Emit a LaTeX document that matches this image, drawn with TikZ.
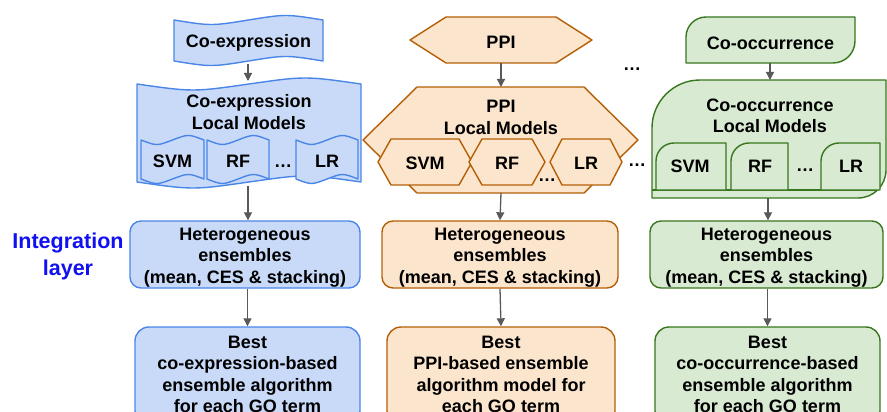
\documentclass[tikz,border=0pt]{standalone}
\usepackage{fontspec}
\setmainfont{Liberation Sans}
\usetikzlibrary{arrows.meta}

\definecolor{bfill}{HTML}{C9DAF8}
\definecolor{bline}{HTML}{4A86E8}
\definecolor{ofill}{HTML}{FCE5CD}
\definecolor{oline}{HTML}{B45F06}
\definecolor{gfill}{HTML}{D9EAD3}
\definecolor{gline}{HTML}{38761D}
\definecolor{arrgray}{HTML}{595959}
\definecolor{layerblue}{HTML}{1010F0}

% wavy "tape": x1,y1,x2,y2,amplitude
\newcommand\tapeshape[5]{({#1},{#2+#5}) .. controls ({#1+(#3-#1)/4},{#2+3*#5}) .. ({(#1+#3)/2},{#2+#5}) .. controls ({#1+3*(#3-#1)/4},{#2-#5}) .. ({#3},{#2+#5}) -- ({#3},{#4-#5}) .. controls ({#1+3*(#3-#1)/4},{#4-3*#5}) .. ({(#1+#3)/2},{#4-#5}) .. controls ({#1+(#3-#1)/4},{#4+#5}) .. ({#1},{#4-#5}) -- cycle}
% hexagon: x1,y1,x2,y2,inset
\newcommand\hexshape[5]{({#1},{(#2+#4)/2}) -- ({#1+#5},{#2}) -- ({#3-#5},{#2}) -- ({#3},{(#2+#4)/2}) -- ({#3-#5},{#4}) -- ({#1+#5},{#4}) -- cycle}
% box with rounded top-left (r1) and bottom-right (r2) corners: x1,y1,x2,y2,r1,r2
\newcommand\leafshape[6]{({#1},{#4}) -- ({#1},{#2+#5}) .. controls ({#1},{#2+0.448*#5}) and ({#1+0.448*#5},{#2}) .. ({#1+#5},{#2}) -- ({#3},{#2}) -- ({#3},{#4-#6}) .. controls ({#3},{#4-0.448*#6}) and ({#3-0.448*#6},{#4}) .. ({#3-#6},{#4}) -- cycle}

\begin{document}
\begin{tikzpicture}[x=1pt,y=-1pt,
  lbl/.style={font=\bfseries\fontsize{18}{21.5}\selectfont, align=center, inner sep=0pt, text=black},
  arr/.style={draw=arrgray, line width=1.3pt, -{Triangle[length=8pt,width=8pt]}},
  outline/.style={line width=1.4pt, line join=round},
  bshape/.style={outline, draw=bline, fill=bfill},
  oshape/.style={outline, draw=oline, fill=ofill},
  gshape/.style={outline, draw=gline, fill=gfill},
  rbox/.style={outline, rounded corners=11pt, inner sep=0pt},
  dotsl/.style={font=\bfseries\fontsize{18}{21.5}\selectfont, inner sep=0pt, anchor=base},
]
\useasboundingbox (0,0) rectangle (887,412);
\clip (0,0) rectangle (887,412);

% ---------------- co-expression column ----------------
\draw[bshape] \tapeshape{174}{17}{323}{64}{3};
\node[lbl] (coexp) at (248.5,43) {Co-expression};
\draw[bshape] \tapeshape{137}{80}{361}{186}{4};
\node[lbl] (coexplm) at (249,112) {Co-expression\\Local Models};
\draw[bshape] \tapeshape{141}{137}{204}{182}{3};
\draw[bshape] \tapeshape{207}{137}{269}{182}{3};
\draw[bshape] \tapeshape{296}{137}{358}{182}{3};
\node[lbl] (bsvm) at (172.5,161) {SVM};
\node[lbl] (brf) at (238,161) {RF};
\node[dotsl] (bdots) at (283,167) {…};
\node[lbl] (blr) at (327,161) {LR};
\coordinate (coexp-b) at (248,64);
\coordinate (coexplm-t) at (248,81);
\coordinate (coexplm-b) at (248,186);

\node[rbox, draw=bline, fill=bfill, minimum width=230pt, minimum height=67pt] (bhet) at (245,254.5) {};
\node[lbl] (bhet-txt) at (245,257.5) {Heterogeneous\\ensembles\\(mean, CES \& stacking)};
\node[rbox, draw=bline, fill=bfill, minimum width=225pt, minimum height=98pt, rounded corners=14pt] (bbest) at (247.5,376) {};
\node[lbl] (bbest-txt) at (247.5,374.5) {Best\\co-expression-based\\ensemble algorithm\\for each GO term};

\draw[arr] (coexp-b) -- (coexplm-t);
\draw[arr] (coexplm-b) -- (bhet.north -| coexplm-b);
\draw[arr] (bhet.south -| bbest.north) -- (bbest.north);

% ---------------- PPI column ----------------
\draw[oshape] \hexshape{410}{17}{592}{63}{36};
\node[lbl] (ppi) at (501,42) {PPI};
\draw[oshape] \hexshape{363}{87}{638}{193}{54};
\node[lbl] (ppilm) at (501,117.5) {PPI\\Local Models};
\draw[oshape] \hexshape{378}{139}{472}{185}{13};
\draw[oshape] \hexshape{469}{139}{545}{185}{13};
\draw[oshape] \hexshape{550}{139}{622}{185}{12};
\node[lbl] (osvm) at (425,163) {SVM};
\node[lbl] (orf) at (507,163) {RF};
\node[lbl] (olr) at (586,163) {LR};
\node[dotsl] (odots) at (547,181) {…};
\coordinate (ppi-b) at (501,63);
\coordinate (ppilm-t) at (501,87);
\coordinate (ppilm-b) at (501,193);

\node[rbox, draw=oline, fill=ofill, minimum width=236pt, minimum height=67pt] (ohet) at (500,254.5) {};
\node[lbl] (ohet-txt) at (500,257.5) {Heterogeneous\\ensembles\\(mean, CES \& stacking)};
\node[rbox, draw=oline, fill=ofill, minimum width=228pt, minimum height=98pt, rounded corners=14pt] (obest) at (501,376) {};
\node[lbl] (obest-txt) at (501,374.5) {Best\\PPI-based ensemble\\algorithm model for\\each GO term};

\draw[arr] (ppi-b) -- (ppilm-t);
\draw[arr] (ppilm-b) -- (ohet.north);
\draw[arr] (ohet.south) -- (obest.north);

% dots between columns
\node[dotsl] (topdots) at (632,71) {…};
\node[dotsl] (middots) at (637,166) {…};

% ---------------- co-occurrence column ----------------
\draw[gshape] \leafshape{686}{17}{855}{63}{20}{22};
\node[lbl] (cooc) at (770.5,43.5) {Co-occurrence};
\draw[gshape] \leafshape{652}{80}{886}{198}{48}{28};
\draw[outline, draw=gline] (652,190) -- (877,190);
\node[lbl] (cooclm) at (770,116) {Co-occurrence\\Local Models};
\draw[gshape] \leafshape{656}{143}{726}{190}{18}{0};
\draw[gshape] \leafshape{731}{143}{788}{190}{18}{0};
\draw[gshape] \leafshape{821}{143}{880}{190}{18}{0};
\node[lbl] (gsvm) at (690,166) {SVM};
\node[lbl] (grf) at (760,166) {RF};
\node[lbl] (glr) at (851,166) {LR};
\node[dotsl] (gdots) at (805,171) {…};
\coordinate (cooc-b) at (770,63);
\coordinate (cooclm-t) at (770,80);
\coordinate (cooclm-b) at (768,198);

\node[rbox, draw=gline, fill=gfill, minimum width=233pt, minimum height=67pt] (ghet) at (766.5,254.5) {};
\node[lbl] (ghet-txt) at (766.5,257.5) {Heterogeneous\\ensembles\\(mean, CES \& stacking)};
\node[rbox, draw=gline, fill=gfill, minimum width=225pt, minimum height=98pt, rounded corners=14pt] (gbest) at (767.5,376) {};
\node[lbl] (gbest-txt) at (767.5,374.5) {Best\\co-occurrence-based\\ensemble algorithm\\for each GO term};

\draw[arr] (cooc-b) -- (cooclm-t);
\draw[arr] (cooclm-b) -- (ghet.north -| cooclm-b);
\draw[arr] (ghet.south -| gbest.north) -- (gbest.north);

% ---------------- layer label ----------------
\node[font=\bfseries\fontsize{21.5}{27}\selectfont, text=layerblue, align=center, inner sep=0pt] (layer) at (68,256.5)
  {Integration\\layer};
\end{tikzpicture}
\end{document}
